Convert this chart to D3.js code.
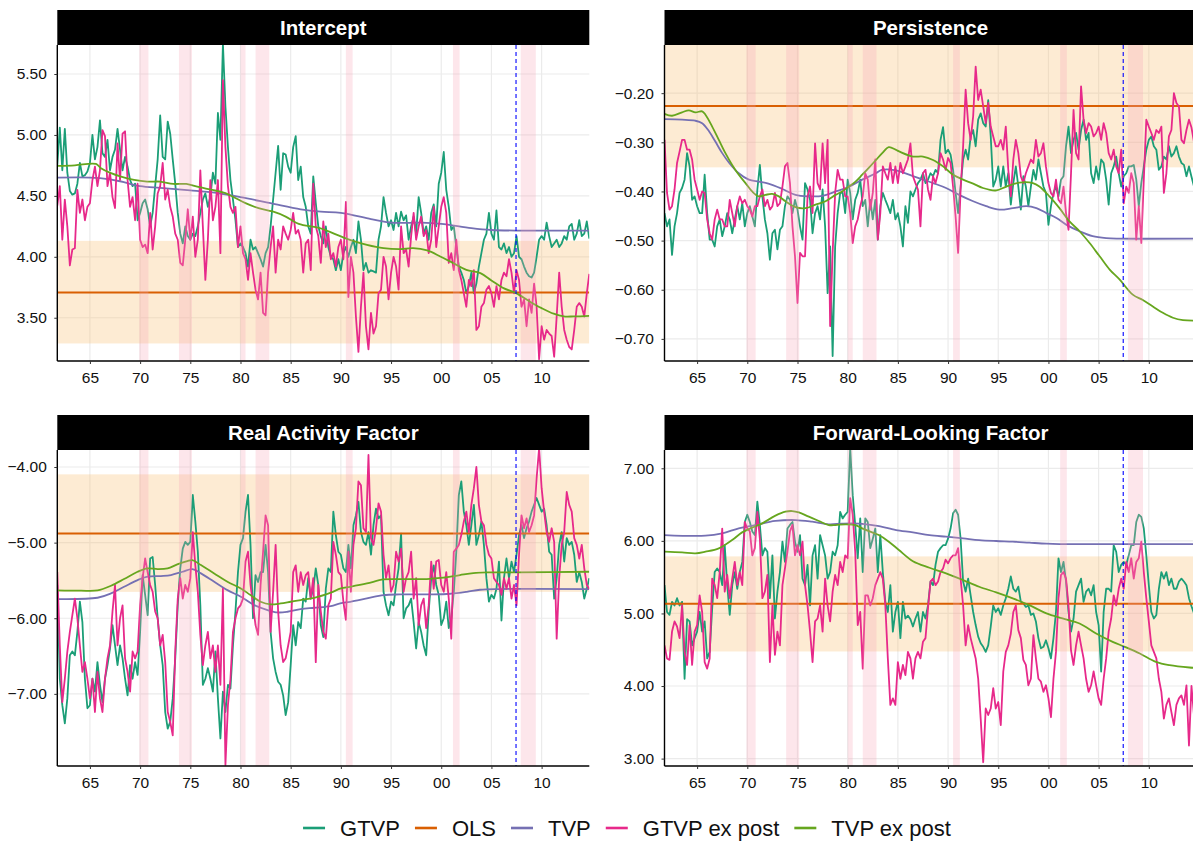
<!DOCTYPE html>
<html>
<head>
<meta charset="utf-8">
<title>tvp-coefficients</title>
<style>
  * { margin: 0; padding: 0; }
  body { background: #fff; }
  svg { display: block; font-family: "Liberation Sans", Arial, Helvetica, sans-serif; }
</style>
</head>
<body>
<svg id="chart"></svg>
<script src="https://cdnjs.cloudflare.com/ajax/libs/d3/7.8.5/d3.min.js"></script>
<script>
// quarterly series start at 1961Q4
const firstQuarter = 1961.75;
const xDomain = [1961.75, 2014.75];
const xTickYears = [1965, 1970, 1975, 1980, 1985, 1990, 1995, 2000, 2005, 2010];
const xTickLabels = ['65', '70', '75', '80', '85', '90', '95', '00', '05', '10'];
const recessions = [[1969.92, 1970.83], [1973.87, 1975.17], [1980.0, 1980.5], [1981.5, 1982.87], [1990.5, 1991.17], [2001.17, 2001.83], [2007.92, 2009.42]];
const breakDate = 2007.45;

const seriesNames = ['GTVP', 'OLS', 'TVP', 'GTVP ex post', 'TVP ex post'];
const seriesColors = ['#1b9e77', '#d95f02', '#7570b3', '#e7298a', '#66a61e'];
const panelTitles = ['Intercept', 'Persistence', 'Real Activity Factor', 'Forward-Looking Factor'];

const olsValues = [3.708, -0.226, -4.878, 5.134];
const olsLower = [3.289, -0.351, -5.651, 4.476];
const olsUpper = [4.131, -0.09, -4.097, 5.786];

const yDomains = [[3.145, 5.738], [-0.745, -0.102], [-7.954, -3.775], [2.898, 7.252]];
const yTicks = [[3.5, 4, 4.5, 5, 5.5], [-0.7, -0.6, -0.5, -0.4, -0.3, -0.2], [-7, -6, -5, -4], [3, 4, 5, 6, 7]];

// ---- Intercept ----
const icptGTVP = [4.75,5.06,4.71,5.05,4.69,4.54,4.51,4.52,4.60,4.77,
4.66,4.67,4.70,4.77,5.00,4.80,4.90,5.12,4.85,4.82,
4.96,4.71,4.82,4.88,5.05,4.88,4.71,4.82,4.74,4.63,
4.58,4.60,4.30,4.36,4.44,4.47,4.39,4.25,4.36,4.58,
4.80,5.16,4.82,4.80,5.11,5.01,4.80,4.60,4.36,4.19,
4.11,4.25,4.17,4.14,4.19,4.17,4.25,4.36,4.47,4.52,
4.41,4.49,4.69,4.60,5.18,4.96,5.75,5.23,4.90,4.63,
4.47,4.30,4.08,4.11,4.08,4.03,3.92,4.14,4.06,4.08,
4.03,3.98,3.92,4.03,4.08,4.25,4.47,4.69,4.91,4.55,
4.85,4.84,4.74,4.69,4.90,4.99,4.63,4.74,4.49,4.41,
4.25,4.19,4.66,4.44,4.25,4.17,4.11,4.25,4.08,4.00,
3.98,3.89,3.98,3.89,4.03,4.08,4.00,4.08,4.14,4.03,
4.29,4.14,3.89,3.95,3.87,3.89,3.88,3.87,4.14,4.25,
4.49,4.36,4.25,4.30,4.22,4.36,4.25,4.37,4.30,4.34,
4.14,4.25,4.33,4.19,4.49,4.36,4.19,4.25,4.14,4.36,
4.43,4.25,4.60,4.69,4.86,4.55,4.41,4.22,4.25,4.08,
3.92,3.87,3.81,3.70,3.76,3.87,3.70,3.78,3.92,4.03,
4.14,4.19,4.36,4.19,4.14,4.38,4.08,4.06,4.11,4.03,
4.08,4.00,4.03,4.17,4.00,3.98,3.92,3.87,3.84,3.83,
3.87,4.00,4.14,4.17,4.14,4.28,4.17,4.08,4.11,4.14,
4.08,4.11,4.17,4.14,4.25,4.27,4.14,4.19,4.30,4.17,
4.19,4.29,4.15];
const icptGTVPex = [4.42,4.58,4.14,4.47,4.25,3.93,4.06,4.07,4.55,4.36,
4.47,4.30,4.41,4.44,4.63,4.74,4.58,4.71,5.04,4.99,
4.58,4.69,4.49,4.40,4.93,4.63,5.01,5.03,4.63,4.41,
4.49,4.30,4.60,4.14,4.08,4.10,4.03,4.36,4.06,4.25,
4.52,4.58,4.77,4.47,4.55,4.41,4.33,4.19,4.14,3.95,
3.93,4.14,4.39,4.14,4.33,4.00,4.14,4.71,4.25,3.81,
4.14,4.63,4.30,4.41,4.63,4.03,5.45,4.90,4.58,4.41,
4.36,4.41,4.08,4.25,4.03,3.98,3.81,4.03,3.87,3.73,
3.65,3.87,3.54,3.52,3.87,4.08,4.25,3.87,4.14,4.06,
4.25,4.19,4.14,4.22,4.36,4.19,4.22,4.14,3.87,4.11,
4.14,3.89,4.60,4.25,4.17,3.95,4.29,4.08,4.19,3.98,
4.03,3.92,4.08,4.14,3.98,4.45,3.67,4.00,3.87,3.51,
3.22,3.59,3.87,3.43,3.24,3.54,3.37,3.43,3.70,3.73,
4.00,3.92,3.65,3.87,4.00,3.92,3.73,4.25,4.03,4.06,
3.92,4.17,4.36,4.14,4.25,4.33,4.17,4.22,4.03,4.14,
4.41,4.08,4.25,4.41,4.49,4.36,3.95,4.03,3.89,4.14,
3.89,3.81,3.70,3.59,3.81,3.76,3.89,3.40,3.43,3.59,
3.62,3.73,3.76,3.70,3.59,3.76,3.65,3.81,3.87,3.84,
3.98,3.87,3.70,3.89,3.81,3.59,3.65,3.43,3.65,3.54,
3.78,3.59,3.16,3.43,3.32,3.40,3.37,3.35,3.18,3.51,
3.87,3.59,3.40,3.32,3.26,3.24,3.40,3.59,3.62,3.59,
3.51,3.70,3.86];
const icptTVP = [[1961.75,4.65],[1965,4.65],[1966,4.645],[1968,4.62],[1970,4.58],[1972,4.565],[1975,4.545],[1977,4.53],[1980,4.49],[1983,4.44],[1986,4.39],[1988,4.37],[1990,4.36],[1993,4.31],[1995,4.28],[1998,4.28],[2000,4.27],[2003,4.235],[2005,4.22],[2008,4.215],[2014.75,4.215]];
const icptTVPex = [[1961.75,4.746],[1963.5,4.751],[1965.6,4.762],[1966.1,4.727],[1967.1,4.686],[1968.1,4.658],[1969.4,4.631],[1970.7,4.617],[1972,4.617],[1973.3,4.598],[1974.6,4.598],[1975.9,4.571],[1977.2,4.549],[1978.5,4.522],[1979.2,4.495],[1980.5,4.44],[1981.8,4.399],[1983.2,4.372],[1984.5,4.33],[1985.8,4.27],[1987.9,4.235],[1990,4.167],[1990.9,4.139],[1992.6,4.098],[1994.25,4.071],[1995.9,4.063],[1997.2,4.071],[1998.6,4.052],[1999.9,4.003],[2001.2,3.948],[2002.5,3.893],[2003.9,3.866],[2005,3.806],[2006.2,3.743],[2007.45,3.702],[2008.8,3.634],[2010,3.579],[2011.2,3.533],[2012.2,3.511],[2013.2,3.511],[2014.75,3.516]];

// ---- Persistence ----
const persGTVP = [-0.444,-0.471,-0.457,-0.529,-0.471,-0.444,-0.403,-0.393,-0.376,-0.322,
-0.349,-0.417,-0.410,-0.430,-0.444,-0.444,-0.366,-0.444,-0.498,-0.498,
-0.512,-0.471,-0.457,-0.491,-0.471,-0.444,-0.457,-0.485,-0.457,-0.430,
-0.457,-0.424,-0.471,-0.444,-0.430,-0.451,-0.471,-0.396,-0.346,-0.410,
-0.457,-0.485,-0.539,-0.485,-0.478,-0.518,-0.478,-0.471,-0.430,-0.410,
-0.417,-0.444,-0.417,-0.437,-0.471,-0.498,-0.383,-0.396,-0.417,-0.485,
-0.444,-0.430,-0.457,-0.396,-0.471,-0.607,-0.512,-0.735,-0.512,-0.444,
-0.403,-0.403,-0.444,-0.376,-0.403,-0.457,-0.417,-0.403,-0.376,-0.430,
-0.417,-0.471,-0.417,-0.457,-0.417,-0.498,-0.430,-0.403,-0.417,-0.430,
-0.444,-0.417,-0.457,-0.444,-0.471,-0.512,-0.430,-0.464,-0.400,-0.410,
-0.396,-0.383,-0.376,-0.363,-0.383,-0.376,-0.363,-0.369,-0.356,-0.363,
-0.295,-0.269,-0.322,-0.315,-0.325,-0.356,-0.403,-0.444,-0.390,-0.335,
-0.315,-0.335,-0.288,-0.275,-0.308,-0.254,-0.241,-0.261,-0.268,-0.214,
-0.288,-0.390,-0.376,-0.349,-0.390,-0.349,-0.390,-0.363,-0.427,-0.383,
-0.349,-0.390,-0.437,-0.369,-0.390,-0.430,-0.390,-0.356,-0.376,-0.335,
-0.363,-0.390,-0.403,-0.468,-0.430,-0.403,-0.390,-0.410,-0.376,-0.369,
-0.308,-0.268,-0.322,-0.295,-0.281,-0.315,-0.275,-0.254,-0.295,-0.281,
-0.363,-0.383,-0.349,-0.376,-0.335,-0.342,-0.376,-0.427,-0.363,-0.349,
-0.329,-0.363,-0.390,-0.369,-0.363,-0.349,-0.349,-0.346,-0.376,-0.430,
-0.383,-0.349,-0.315,-0.295,-0.288,-0.308,-0.315,-0.356,-0.349,-0.329,
-0.335,-0.308,-0.329,-0.322,-0.308,-0.329,-0.342,-0.346,-0.369,-0.349,
-0.37,-0.39,-0.40];
const persGTVPex = [-0.295,-0.403,-0.437,-0.430,-0.396,-0.342,-0.319,-0.295,-0.295,-0.315,
-0.315,-0.335,-0.376,-0.396,-0.417,-0.400,-0.403,-0.457,-0.485,-0.498,
-0.457,-0.437,-0.457,-0.457,-0.471,-0.471,-0.417,-0.444,-0.471,-0.430,
-0.410,-0.424,-0.417,-0.430,-0.437,-0.451,-0.430,-0.430,-0.410,-0.396,
-0.430,-0.417,-0.437,-0.430,-0.403,-0.430,-0.424,-0.390,-0.349,-0.342,
-0.383,-0.471,-0.532,-0.627,-0.525,-0.532,-0.532,-0.410,-0.390,-0.444,
-0.302,-0.383,-0.396,-0.302,-0.383,-0.295,-0.674,-0.525,-0.403,-0.356,
-0.376,-0.376,-0.410,-0.410,-0.444,-0.505,-0.471,-0.457,-0.430,-0.410,
-0.363,-0.376,-0.437,-0.403,-0.335,-0.498,-0.444,-0.349,-0.363,-0.376,
-0.342,-0.383,-0.349,-0.383,-0.342,-0.363,-0.349,-0.335,-0.302,-0.369,
-0.383,-0.396,-0.471,-0.363,-0.356,-0.396,-0.417,-0.369,-0.383,-0.363,
-0.322,-0.335,-0.356,-0.332,-0.342,-0.390,-0.451,-0.525,-0.396,-0.308,
-0.193,-0.261,-0.295,-0.247,-0.146,-0.214,-0.193,-0.227,-0.261,-0.220,
-0.268,-0.288,-0.308,-0.308,-0.295,-0.315,-0.268,-0.356,-0.410,-0.335,
-0.295,-0.322,-0.369,-0.383,-0.363,-0.349,-0.335,-0.342,-0.295,-0.329,
-0.322,-0.302,-0.349,-0.383,-0.403,-0.410,-0.376,-0.417,-0.424,-0.390,
-0.444,-0.478,-0.363,-0.234,-0.322,-0.335,-0.186,-0.254,-0.281,-0.261,
-0.268,-0.288,-0.281,-0.268,-0.295,-0.261,-0.281,-0.322,-0.335,-0.315,
-0.349,-0.363,-0.315,-0.424,-0.390,-0.403,-0.363,-0.383,-0.498,-0.430,
-0.505,-0.376,-0.254,-0.268,-0.281,-0.295,-0.275,-0.281,-0.268,-0.403,
-0.363,-0.288,-0.275,-0.200,-0.220,-0.227,-0.295,-0.302,-0.275,-0.254,
-0.27,-0.30,-0.32];
const persTVP = [[1961.75,-0.253],[1963.5,-0.254],[1964.8,-0.256],[1965.5,-0.261],[1966.2,-0.278],[1966.8,-0.298],[1967.5,-0.322],[1968.2,-0.342],[1969.15,-0.363],[1970.15,-0.376],[1971.15,-0.380],[1972.1,-0.384],[1973.5,-0.395],[1974.8,-0.407],[1976.1,-0.410],[1977.5,-0.409],[1978.8,-0.400],[1980.1,-0.391],[1981.45,-0.376],[1982.8,-0.363],[1983.4,-0.356],[1984.8,-0.357],[1986.5,-0.369],[1988.5,-0.383],[1989.8,-0.393],[1991.1,-0.407],[1992.5,-0.420],[1993.8,-0.430],[1995.1,-0.437],[1996.45,-0.434],[1997.8,-0.430],[1998.8,-0.434],[1999.8,-0.444],[2000.8,-0.454],[2001.8,-0.468],[2003.1,-0.481],[2004.4,-0.491],[2005.75,-0.495],[2007.1,-0.496],[2014.75,-0.496]];
const persTVPex = [[1961.75,-0.242],[1962.5,-0.246],[1963.5,-0.239],[1964.17,-0.235],[1964.83,-0.239],[1965.5,-0.237],[1965.83,-0.244],[1966.5,-0.268],[1967.16,-0.295],[1967.82,-0.322],[1968.49,-0.346],[1969.15,-0.366],[1969.82,-0.383],[1970.48,-0.400],[1971.15,-0.410],[1971.81,-0.407],[1972.48,-0.405],[1973.14,-0.410],[1973.8,-0.420],[1974.8,-0.432],[1975.8,-0.434],[1976.8,-0.427],[1977.79,-0.420],[1978.79,-0.407],[1979.45,-0.400],[1980.12,-0.390],[1980.78,-0.380],[1981.45,-0.366],[1982.1,-0.352],[1982.77,-0.337],[1983.44,-0.322],[1984.1,-0.310],[1984.77,-0.315],[1985.17,-0.319],[1986.5,-0.329],[1987.5,-0.329],[1988.5,-0.336],[1989.5,-0.349],[1990.5,-0.366],[1991.5,-0.376],[1992.5,-0.384],[1993.47,-0.393],[1994.8,-0.398],[1995.8,-0.390],[1997.1,-0.382],[1998.45,-0.383],[1999.1,-0.390],[2000.1,-0.410],[2001.1,-0.434],[2002.1,-0.461],[2003.1,-0.481],[2004.1,-0.505],[2005.1,-0.532],[2006.1,-0.559],[2007.08,-0.579],[2008.4,-0.610],[2009.4,-0.621],[2010.4,-0.634],[2011.4,-0.647],[2012.4,-0.657],[2013.4,-0.662],[2014.75,-0.663]];

// ---- Real activity factor ----
const realGTVP = [-5.56,-6.80,-7.15,-7.39,-7.06,-6.49,-6.44,-6.49,-6.18,-5.78,
-6.05,-6.80,-7.19,-7.15,-6.80,-6.97,-6.58,-6.88,-7.11,-6.80,
-6.62,-6.40,-6.09,-6.36,-6.62,-6.36,-6.53,-6.80,-7.02,-6.62,
-6.80,-6.58,-6.75,-6.18,-5.43,-5.69,-5.96,-5.21,-5.19,-5.56,
-6.00,-6.36,-6.62,-7.24,-7.46,-7.37,-7.06,-6.53,-5.83,-5.34,
-5.08,-4.99,-5.03,-4.99,-4.37,-4.72,-5.12,-5.83,-6.88,-6.80,
-6.66,-6.80,-6.97,-6.44,-7.06,-7.59,-6.97,-7.24,-6.88,-6.93,
-6.36,-5.91,-5.39,-5.03,-4.94,-4.59,-4.37,-5.03,-6.00,-5.43,
-5.52,-5.39,-5.39,-5.03,-5.39,-6.18,-6.53,-6.71,-6.84,-6.88,
-7.02,-7.28,-7.11,-6.62,-6.09,-6.36,-6.05,-6.13,-5.74,-5.78,
-5.47,-5.74,-5.61,-5.34,-5.56,-6.09,-6.25,-5.61,-5.34,-5.39,
-4.59,-4.90,-5.12,-5.16,-5.34,-5.39,-5.03,-5.34,-4.77,-4.64,
-4.46,-4.86,-4.99,-5.03,-4.86,-5.16,-4.77,-4.55,-4.68,-4.64,
-5.65,-5.83,-5.96,-5.78,-5.83,-5.56,-5.34,-4.88,-6.00,-5.87,
-5.83,-5.74,-6.05,-6.40,-6.05,-6.18,-6.36,-6.49,-5.91,-5.47,
-5.30,-5.56,-5.69,-6.09,-6.00,-5.78,-6.13,-6.00,-5.65,-5.12,
-4.37,-4.19,-4.59,-4.77,-5.03,-4.77,-4.50,-5.03,-4.90,-4.72,
-5.03,-5.47,-5.78,-5.69,-5.74,-5.61,-5.25,-6.03,-5.47,-5.21,
-5.47,-5.25,-5.39,-5.16,-4.90,-4.77,-4.94,-4.81,-4.72,-4.59,
-4.50,-4.41,-4.50,-4.59,-4.55,-4.77,-5.12,-5.16,-5.74,-5.47,
-5.03,-4.86,-5.25,-4.94,-5.03,-4.99,-5.16,-5.52,-5.39,-5.52,
-5.74,-5.61,-5.47];
const realGTVPex = [-5.39,-6.36,-7.11,-6.80,-6.44,-6.18,-5.96,-5.74,-6.00,-6.36,
-6.71,-6.58,-6.80,-7.06,-6.80,-7.24,-6.71,-7.06,-7.24,-6.80,
-6.53,-6.36,-5.91,-5.56,-6.36,-6.00,-5.83,-6.53,-6.71,-6.97,
-6.44,-6.53,-6.44,-5.83,-5.47,-5.21,-5.39,-5.56,-5.65,-5.91,
-6.00,-6.36,-6.22,-6.58,-7.24,-7.37,-7.55,-6.44,-5.74,-5.47,
-5.74,-5.56,-5.65,-5.47,-4.86,-5.30,-5.65,-6.22,-6.62,-6.36,
-6.18,-6.53,-6.36,-6.71,-6.36,-6.88,-5.61,-7.94,-7.15,-6.80,
-6.18,-6.00,-5.87,-5.83,-5.74,-5.25,-5.12,-5.56,-5.83,-6.09,
-6.22,-5.56,-5.12,-4.64,-4.77,-6.18,-5.65,-5.03,-5.91,-6.36,
-6.58,-6.53,-6.36,-6.18,-5.39,-5.30,-5.65,-5.39,-5.56,-5.43,
-5.39,-5.74,-5.47,-6.58,-5.56,-5.91,-6.18,-6.27,-5.83,-5.74,
-4.99,-5.16,-5.39,-5.43,-5.78,-6.02,-5.12,-5.65,-5.03,-4.81,
-4.19,-4.24,-4.81,-4.86,-3.84,-4.94,-5.03,-4.81,-4.48,-4.59,
-5.16,-5.47,-5.30,-5.65,-5.56,-5.12,-5.25,-5.08,-5.65,-5.47,
-5.39,-5.12,-5.74,-5.47,-6.09,-5.83,-5.74,-6.13,-5.83,-5.25,
-5.61,-5.25,-5.23,-5.56,-5.65,-5.39,-5.74,-6.27,-5.12,-5.08,
-5.03,-4.90,-4.72,-4.59,-4.86,-4.50,-4.28,-4.00,-4.50,-4.72,
-4.77,-5.03,-5.16,-5.21,-5.47,-5.52,-5.56,-5.69,-5.47,-5.61,
-5.47,-5.74,-5.56,-5.83,-5.16,-4.64,-4.81,-4.68,-4.86,-4.77,
-4.64,-4.15,-3.75,-4.28,-4.59,-4.86,-4.99,-4.81,-4.99,-6.27,
-5.47,-5.03,-4.86,-4.33,-4.50,-4.59,-4.94,-5.03,-5.21,-5.03,
-5.34,-5.56,-5.61];
const realTVP = [[1961.75,-5.747],[1965.76,-5.729],[1967.1,-5.672],[1968.4,-5.584],[1969.75,-5.495],[1970.74,-5.451],[1972.07,-5.442],[1973.07,-5.429],[1974.23,-5.385],[1975.2,-5.350],[1976.06,-5.407],[1977.38,-5.517],[1978.7,-5.628],[1980.04,-5.716],[1981.37,-5.826],[1982.7,-5.892],[1983.7,-5.923],[1984.69,-5.914],[1986.0,-5.879],[1987.34,-5.861],[1989.0,-5.839],[1989.93,-5.804],[1990.93,-5.782],[1992.59,-5.738],[1994.25,-5.694],[1995.9,-5.685],[1999.22,-5.685],[2000.88,-5.676],[2002.54,-5.650],[2003.86,-5.623],[2005.85,-5.614],[2014.75,-5.614]];
const realTVPex = [[1961.75,-5.632],[1964.1,-5.636],[1965.76,-5.632],[1967.1,-5.570],[1968.4,-5.482],[1969.75,-5.385],[1970.74,-5.341],[1971.74,-5.350],[1972.74,-5.341],[1973.7,-5.288],[1974.7,-5.244],[1975.2,-5.231],[1976.06,-5.297],[1977.38,-5.407],[1978.7,-5.517],[1980.04,-5.606],[1981.0,-5.694],[1982.0,-5.782],[1983.0,-5.817],[1984.0,-5.804],[1985.0,-5.782],[1986.0,-5.760],[1987.34,-5.729],[1989.0,-5.660],[1990.0,-5.606],[1990.93,-5.584],[1992.59,-5.540],[1994.25,-5.487],[1995.9,-5.482],[1998.56,-5.482],[2000.2,-5.464],[2001.86,-5.429],[2003.2,-5.403],[2004.5,-5.394],[2007.5,-5.394],[2014.75,-5.385]];

// ---- Forward-looking factor ----
const fwdGTVP = [5.39,5.02,4.98,5.16,5.11,5.21,5.11,5.16,4.10,4.92,
4.89,4.56,4.66,4.75,5.02,4.75,4.89,4.38,4.47,5.07,
5.57,5.62,5.57,5.39,5.94,5.39,4.98,5.39,5.57,5.34,
5.57,5.71,6.26,6.36,6.26,6.13,6.08,6.54,6.22,5.80,
5.90,5.85,5.21,5.80,4.93,5.30,5.57,5.99,5.71,6.17,
6.22,6.26,5.99,5.85,6.08,5.48,5.39,5.67,5.11,5.80,
5.94,5.48,6.08,5.94,5.80,5.48,5.57,5.85,5.80,5.94,
6.40,6.31,6.36,6.40,7.28,6.63,6.22,5.76,6.31,5.57,
6.31,6.26,5.90,6.03,6.17,5.57,6.08,5.57,5.16,5.02,
5.39,4.75,5.02,5.16,4.66,5.16,4.93,4.97,4.92,4.82,
4.93,5.02,4.75,5.02,4.93,5.11,5.44,5.39,5.67,5.85,
5.90,5.94,5.94,6.03,6.17,6.38,6.43,6.36,6.03,5.44,
5.30,5.48,5.25,5.02,4.84,4.68,4.59,4.54,4.47,4.56,
4.82,5.11,5.02,5.07,4.98,5.11,5.21,5.34,5.51,5.34,
5.30,5.37,5.16,5.14,5.09,5.11,4.98,5.00,4.89,4.66,
4.52,4.54,4.63,4.52,4.38,4.66,5.02,5.76,5.57,5.71,
5.44,5.02,4.75,4.93,5.30,5.39,5.48,5.16,5.30,5.34,
5.25,5.39,5.02,4.84,4.20,5.02,5.34,5.34,5.30,5.94,
5.85,5.57,5.67,5.71,5.67,5.80,5.94,5.94,6.26,6.36,
6.33,6.17,5.80,5.39,5.02,4.93,4.98,5.34,5.57,5.48,
5.57,5.39,5.48,5.34,5.34,5.44,5.48,5.44,5.39,5.21,
5.10,5.00,4.95];
const fwdGTVPex = [4.56,4.38,4.36,4.75,4.89,4.82,4.66,5.11,4.47,4.29,
4.84,4.29,4.75,4.84,5.25,5.02,4.33,4.24,4.38,5.48,
5.39,5.21,5.57,6.17,5.30,5.53,5.21,5.48,5.71,5.39,
5.57,5.39,6.26,6.17,6.13,5.80,5.90,6.40,6.03,5.21,
5.30,5.53,4.33,5.11,4.43,4.75,4.56,5.39,5.62,5.85,
6.13,6.22,5.80,5.94,5.80,5.99,5.39,5.11,4.75,4.33,
4.89,4.93,5.11,4.75,5.48,5.11,4.89,5.30,5.53,5.39,
5.71,5.57,5.80,5.76,6.59,6.36,5.85,4.84,5.02,4.24,
5.25,5.25,5.11,5.21,5.39,5.48,5.57,5.48,5.11,4.38,
3.74,3.83,3.74,4.33,4.10,4.29,4.15,4.47,4.38,4.10,
4.38,4.47,4.38,4.61,4.66,5.07,5.44,5.48,5.39,5.44,
5.57,5.62,5.74,5.69,5.76,5.80,5.80,5.90,5.48,5.11,
4.56,4.84,4.66,4.52,4.38,4.10,3.55,2.95,3.69,3.60,
3.69,3.97,3.69,3.78,3.46,4.20,4.47,4.56,4.72,5.02,
5.11,4.77,4.66,4.36,4.29,4.01,4.10,4.70,4.38,4.10,
4.06,3.92,4.01,3.83,3.57,4.10,4.47,5.21,5.53,5.57,
5.48,5.11,4.49,4.29,4.56,4.75,4.56,4.38,4.10,3.92,
4.01,4.20,4.01,3.83,3.74,4.10,4.38,4.75,4.93,5.25,
5.11,5.34,5.48,5.34,5.71,5.57,5.76,5.48,5.71,5.76,
5.99,5.57,5.21,4.89,4.56,4.47,4.38,4.10,3.92,3.55,
3.74,3.83,3.64,3.46,3.74,3.83,3.87,3.74,4.01,3.18,
4.00,3.60,3.80];
const fwdTVP = [[1961.75,6.080],[1965.83,6.071],[1967.5,6.103],[1969.15,6.172],[1970.8,6.218],[1972.8,6.274],[1974.8,6.287],[1976.46,6.264],[1978.12,6.228],[1979.45,6.237],[1981.1,6.237],[1982.77,6.209],[1984.1,6.172],[1984.83,6.149],[1986.5,6.117],[1988.15,6.080],[1989.8,6.057],[1991.5,6.034],[1993.1,6.011],[1994.8,5.998],[1996.45,5.989],[1998.1,5.975],[1999.8,5.961],[2001.1,5.956],[2003.1,5.956],[2014.75,5.956]];
const fwdTVPex = [[1961.75,5.851],[1963.5,5.841],[1964.83,5.828],[1965.83,5.851],[1967.16,5.897],[1968.49,6.011],[1969.48,6.117],[1970.48,6.182],[1971.48,6.241],[1972.8,6.347],[1973.8,6.402],[1974.47,6.411],[1975.13,6.393],[1976.13,6.333],[1977.13,6.274],[1978.12,6.218],[1978.79,6.218],[1979.78,6.228],[1980.78,6.218],[1981.45,6.172],[1982.44,6.117],[1983.1,6.080],[1984.1,5.989],[1985.1,5.874],[1986.5,5.72],[1988.15,5.63],[1989.8,5.552],[1991.5,5.460],[1993.1,5.368],[1994.8,5.290],[1996.45,5.207],[1998.1,5.115],[1999.8,5.000],[2001.4,4.931],[2003.1,4.862],[2004.75,4.724],[2006.4,4.609],[2007.6,4.540],[2009.1,4.448],[2010.7,4.333],[2012.06,4.287],[2014.05,4.255],[2014.75,4.25]];

const dimension = {
  width: 1193,
  height: 842,
  panelW: 532,
  panelH: 316,
  lefts: [57.3, 664.5],
  tops: [45, 450],
  strip: 35
};

const asQuarterly = vals => vals.map((v, i) => [firstQuarter + i * 0.25, v]);

const panels = [
  { gtvp: icptGTVP, gtvpEx: icptGTVPex, tvp: icptTVP, tvpEx: icptTVPex },
  { gtvp: persGTVP, gtvpEx: persGTVPex, tvp: persTVP, tvpEx: persTVPex },
  { gtvp: realGTVP, gtvpEx: realGTVPex, tvp: realTVP, tvpEx: realTVPex },
  { gtvp: fwdGTVP, gtvpEx: fwdGTVPex, tvp: fwdTVP, tvpEx: fwdTVPex }
];

const svg = d3.select('#chart').attr('width', dimension.width).attr('height', dimension.height);
const xScale = d3.scaleLinear().domain(xDomain).range([0, dimension.panelW]);
const fmt = d3.format('.2f');

panels.forEach((p, k) => {
  const col = k % 2, row = Math.floor(k / 2);
  const W = dimension.panelW, H = dimension.panelH;
  const yScale = d3.scaleLinear().domain(yDomains[k]).range([H, 0]);
  const g = svg.append('g').attr('transform', `translate(${dimension.lefts[col]},${dimension.tops[row]})`);

  g.append('clipPath').attr('id', 'clip' + k)
    .append('rect').attr('width', W).attr('height', H);

  // grid
  const grid = g.append('g').attr('stroke', '#ebebeb').attr('stroke-width', 1.2);
  grid.selectAll('.gx').data(xTickYears).join('line')
    .attr('x1', d => xScale(d)).attr('x2', d => xScale(d)).attr('y1', 0).attr('y2', H);
  grid.selectAll('.gy').data(yTicks[k]).join('line')
    .attr('y1', d => yScale(d)).attr('y2', d => yScale(d)).attr('x1', 0).attr('x2', W);

  const plot = g.append('g').attr('clip-path', `url(#clip${k})`);

  // OLS confidence band
  plot.append('rect')
    .attr('x', 0).attr('width', W)
    .attr('y', yScale(olsUpper[k]))
    .attr('height', yScale(olsLower[k]) - yScale(olsUpper[k]))
    .attr('fill', '#fabe6e').attr('opacity', 0.3);

  const line = d3.line().x(d => xScale(d[0])).y(d => yScale(d[1]));
  const smooth = d3.line().x(d => xScale(d[0])).y(d => yScale(d[1])).curve(d3.curveCatmullRom.alpha(0.5));

  plot.append('path').datum(asQuarterly(p.gtvp)).attr('d', line)
    .attr('fill', 'none').attr('stroke', seriesColors[0]).attr('stroke-width', 1.8).attr('stroke-linejoin', 'round');
  plot.append('line')
    .attr('x1', 0).attr('x2', W).attr('y1', yScale(olsValues[k])).attr('y2', yScale(olsValues[k]))
    .attr('stroke', seriesColors[1]).attr('stroke-width', 2);
  plot.append('path').datum(p.tvp).attr('d', smooth)
    .attr('fill', 'none').attr('stroke', seriesColors[2]).attr('stroke-width', 1.8);
  plot.append('path').datum(asQuarterly(p.gtvpEx)).attr('d', line)
    .attr('fill', 'none').attr('stroke', seriesColors[3]).attr('stroke-width', 1.8).attr('stroke-linejoin', 'round');
  plot.append('path').datum(p.tvpEx).attr('d', smooth)
    .attr('fill', 'none').attr('stroke', seriesColors[4]).attr('stroke-width', 1.8);

  // recession shading
  plot.selectAll('.rec').data(recessions).join('rect')
    .attr('x', d => xScale(d[0])).attr('width', d => xScale(d[1]) - xScale(d[0]))
    .attr('y', 0).attr('height', H)
    .attr('fill', '#f7a1b5').attr('opacity', 0.27);

  // structural break
  plot.append('line')
    .attr('x1', xScale(breakDate)).attr('x2', xScale(breakDate)).attr('y1', 0).attr('y2', H)
    .attr('stroke', '#0000ff').attr('stroke-width', 1.1).attr('stroke-dasharray', '4,3');

  // axes
  const xAxis = d3.axisBottom(xScale).tickValues(xTickYears).tickFormat((d, i) => xTickLabels[i]).tickSize(3).tickPadding(8);
  const yAxis = d3.axisLeft(yScale).tickValues(yTicks[k]).tickFormat(fmt).tickSize(3).tickPadding(7.5);
  const ax = g.append('g').attr('transform', `translate(0,${H})`).call(xAxis);
  const ay = g.append('g').call(yAxis);
  [ax, ay].forEach(a => {
    a.select('.domain').attr('stroke', '#000').attr('stroke-width', 1.4);
    a.selectAll('.tick line').attr('stroke', '#333');
    a.selectAll('.tick text').attr('fill', '#111').style('font-size', '15.5px')
      .style('font-family', '"Liberation Sans", Arial, sans-serif');
  });
  ax.select('.domain').attr('d', `M0,0H${W}`);
  ay.select('.domain').attr('d', `M0,0V${H}`);

  // strip
  g.append('rect').attr('x', 0).attr('y', -dimension.strip).attr('width', W).attr('height', dimension.strip).attr('fill', '#000');
  g.append('text').attr('x', W / 2).attr('y', -dimension.strip / 2).attr('dy', '0.36em')
    .attr('text-anchor', 'middle').attr('fill', '#fff').attr('font-weight', 'bold').style('font-size', '20.5px')
    .text(panelTitles[k]);
});

// legend
const legend = svg.append('g');
let cursor = 0;
seriesNames.forEach((name, i) => {
  const it = legend.append('g');
  it.append('line').attr('x1', 0).attr('x2', 22).attr('y1', 0).attr('y2', 0)
    .attr('stroke', seriesColors[i]).attr('stroke-width', 2.6);
  const t = it.append('text').attr('x', 37).attr('dy', '0.36em').style('font-size', '22px').attr('fill', '#111').text(name);
  const w = 37 + t.node().getComputedTextLength();
  it.attr('transform', `translate(${cursor},0)`);
  cursor += w + 15;
});
const totalW = cursor - 15;
const centre = (dimension.lefts[0] + dimension.lefts[1] + dimension.panelW) / 2;
legend.attr('transform', `translate(${centre - totalW / 2},828)`);
</script>
</body>
</html>
